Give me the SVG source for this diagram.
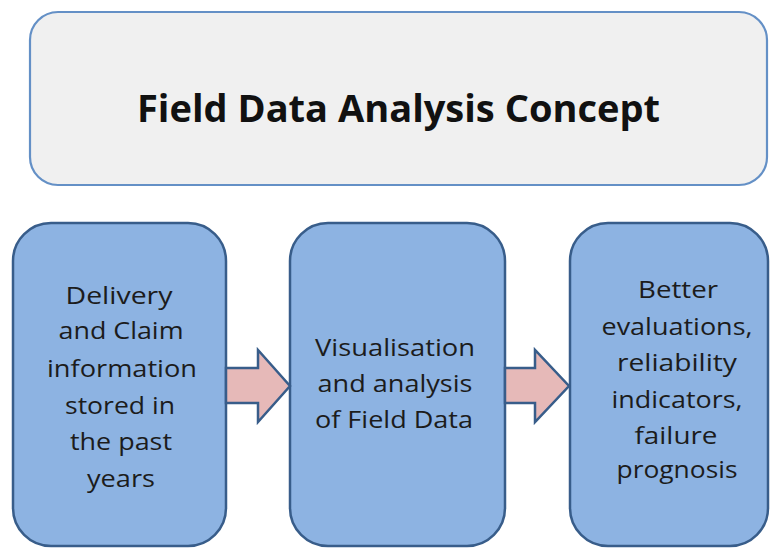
<svg xmlns="http://www.w3.org/2000/svg" width="771" height="548" viewBox="0 0 771 548">
  <style>
    .title-box { fill: #f0f0f0; stroke: #6490c6; stroke-width: 2.2; }
    .step { fill: #8db3e2; stroke: #385d8a; stroke-width: 2.5; }
    .flow { fill: #e6b9b8; stroke: #385d8a; stroke-width: 2.5; stroke-linejoin: miter; }
    .title { font-family: "Open Sans", "Liberation Sans", sans-serif; font-weight: bold; font-size: 38px; fill: #111111; }
    .label { font-family: "Open Sans", "Liberation Sans", sans-serif; font-size: 24px; fill: #1c1c1c; text-anchor: middle; }
  </style>
  <rect x="0" y="0" width="771" height="548" fill="#ffffff"/>

  <g id="title">
    <rect class="title-box" x="30" y="12" width="737" height="173" rx="28" ry="28"/>
    <text class="title" x="137" y="122" textLength="523" lengthAdjust="spacingAndGlyphs">Field Data Analysis Concept</text>
  </g>

  <g id="source">
    <rect class="step" x="13" y="223" width="213" height="323" rx="38" ry="38"/>
    <text class="label" x="119" y="304" textLength="107" lengthAdjust="spacingAndGlyphs">Delivery</text>
    <text class="label" x="121" y="339" textLength="125" lengthAdjust="spacingAndGlyphs">and Claim</text>
    <text class="label" x="122" y="377" textLength="150" lengthAdjust="spacingAndGlyphs">information</text>
    <text class="label" x="120" y="414" textLength="110" lengthAdjust="spacingAndGlyphs">stored in</text>
    <text class="label" x="121" y="450" textLength="102" lengthAdjust="spacingAndGlyphs">the past</text>
    <text class="label" x="121" y="487" textLength="68" lengthAdjust="spacingAndGlyphs">years</text>
  </g>

  <g id="analysis">
    <rect class="step" x="290" y="223" width="215" height="323" rx="38" ry="38"/>
    <text class="label" x="395" y="356" textLength="160" lengthAdjust="spacingAndGlyphs">Visualisation</text>
    <text class="label" x="395" y="392" textLength="155" lengthAdjust="spacingAndGlyphs">and analysis</text>
    <text class="label" x="394" y="428" textLength="158" lengthAdjust="spacingAndGlyphs">of Field Data</text>
  </g>

  <g id="results">
    <rect class="step" x="570" y="223" width="198" height="323" rx="38" ry="38"/>
    <text class="label" x="678" y="298" textLength="80" lengthAdjust="spacingAndGlyphs">Better</text>
    <text class="label" x="677" y="335" textLength="151" lengthAdjust="spacingAndGlyphs">evaluations,</text>
    <text class="label" x="677" y="371" textLength="120" lengthAdjust="spacingAndGlyphs">reliability</text>
    <text class="label" x="677" y="408" textLength="131" lengthAdjust="spacingAndGlyphs">indicators,</text>
    <text class="label" x="676" y="444" textLength="83" lengthAdjust="spacingAndGlyphs">failure</text>
    <text class="label" x="677" y="478" textLength="121" lengthAdjust="spacingAndGlyphs">prognosis</text>
  </g>

  <g id="connectors">
    <polygon class="flow" points="226,368 258,368 258,350 290,386 258,422 258,403 226,403"/>
    <polygon class="flow" points="505,368 535,368 535,350 569,386 535,422 535,403 505,403"/>
  </g>
</svg>
